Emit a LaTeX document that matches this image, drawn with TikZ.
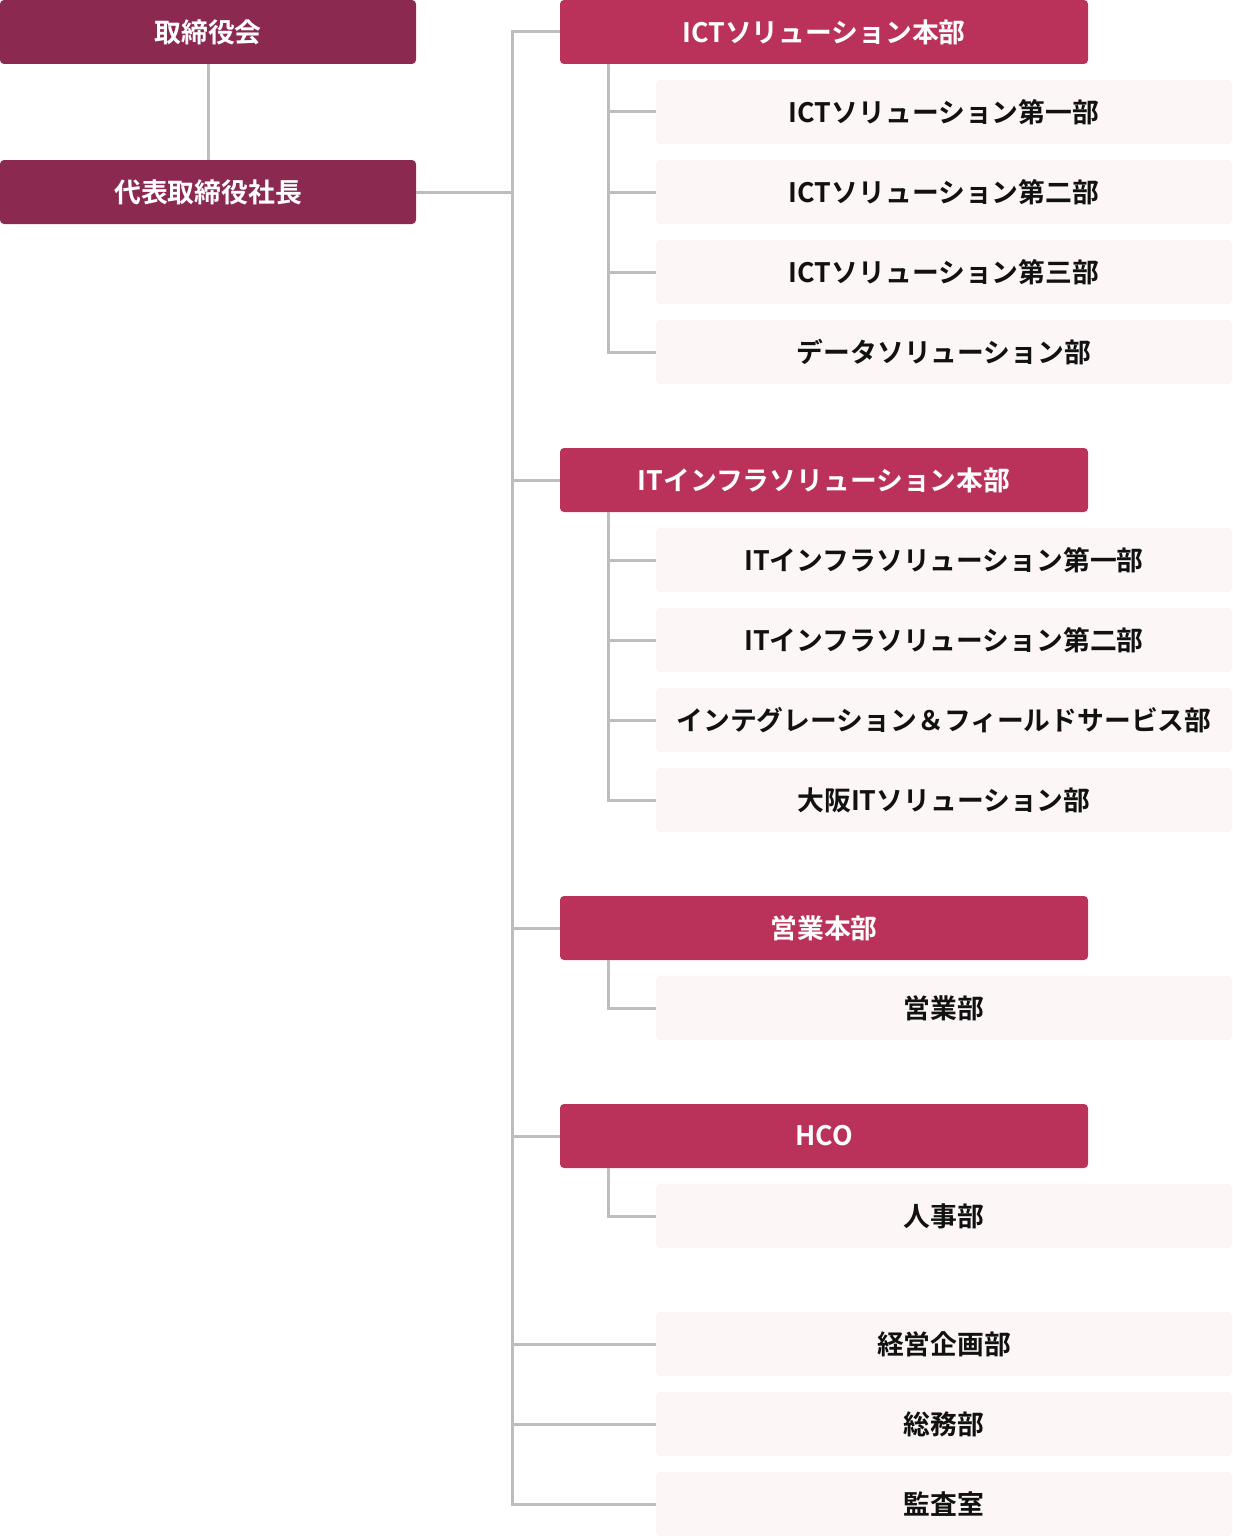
\documentclass[tikz,border=0pt]{standalone}
\usepackage{fontspec}
\setmainfont{Noto Sans CJK JP}[BoldFont={Noto Sans CJK JP Bold}]
\definecolor{topc}{HTML}{8B2950}
\definecolor{hqc}{HTML}{BA315A}
\definecolor{subc}{HTML}{FCF6F6}
\definecolor{linec}{HTML}{BDBDBD}
\definecolor{txtc}{HTML}{111111}
\tikzset{
  lbl/.style={font=\bfseries\fontsize{26.8}{27}\selectfont},
  topbox/.style={lbl, fill=topc, rounded corners=4pt, minimum width=416pt, minimum height=64pt, inner sep=0pt, text=white},
  hqbox/.style={lbl, fill=hqc, rounded corners=4pt, minimum width=528pt, minimum height=64pt, inner sep=0pt, text=white},
  subbox/.style={lbl, fill=subc, rounded corners=4pt, minimum width=576pt, minimum height=64pt, inner sep=0pt, text=txtc},
  ln/.style={draw=linec, line width=3pt}
}
\begin{document}
\begin{tikzpicture}[x=1pt,y=-1pt]
\useasboundingbox (0,0) rectangle (1232,1536);
\coordinate (tr) at (512,0);
\coordinate (sr) at (608,0);
% top
\node[topbox] (board) at (208,32) {取締役会};
\node[topbox] (ceo) at (208,192) {代表取締役社長};
% HQs
\node[hqbox] (ict) at (824,32) {ICTソリューション本部};
\node[hqbox] (it) at (824,480) {ITインフラソリューション本部};
\node[hqbox] (sales) at (824,928) {営業本部};
\node[hqbox] (hco) at (824,1136) {HCO};
% subs
\node[subbox] (ict1) at (944,112) {ICTソリューション第一部};
\node[subbox] (ict2) at (944,192) {ICTソリューション第二部};
\node[subbox] (ict3) at (944,272) {ICTソリューション第三部};
\node[subbox] (ict4) at (944,352) {データソリューション部};
\node[subbox] (it1) at (944,560) {ITインフラソリューション第一部};
\node[subbox] (it2) at (944,640) {ITインフラソリューション第二部};
\node[subbox] (it3) at (944,720) {インテグレーション＆フィールドサービス部};
\node[subbox] (it4) at (944,800) {大阪ITソリューション部};
\node[subbox] (sales1) at (944,1008) {営業部};
\node[subbox] (hco1) at (944,1216) {人事部};
\node[subbox] (plan) at (944,1344) {経営企画部};
\node[subbox] (gen) at (944,1424) {総務部};
\node[subbox] (audit) at (944,1504) {監査室};
% connectors
\draw[ln] (board.south) -- (ceo.north);
\draw[ln] (ceo.east) -- (ceo.east -| tr);
\draw[ln] (ict.west) -| (tr |- audit.west) -- (audit.west);
\draw[ln] (it.west) -- (it.west -| tr);
\draw[ln] (sales.west) -- (sales.west -| tr);
\draw[ln] (hco.west) -- (hco.west -| tr);
\draw[ln] (plan.west) -- (plan.west -| tr);
\draw[ln] (gen.west) -- (gen.west -| tr);
% sub branches
\draw[ln] (ict.south -| sr) |- (ict4.west);
\draw[ln] (ict1.west) -- (ict1.west -| sr);
\draw[ln] (ict2.west) -- (ict2.west -| sr);
\draw[ln] (ict3.west) -- (ict3.west -| sr);
\draw[ln] (it.south -| sr) |- (it4.west);
\draw[ln] (it1.west) -- (it1.west -| sr);
\draw[ln] (it2.west) -- (it2.west -| sr);
\draw[ln] (it3.west) -- (it3.west -| sr);
\draw[ln] (sales.south -| sr) |- (sales1.west);
\draw[ln] (hco.south -| sr) |- (hco1.west);
\end{tikzpicture}
\end{document}
